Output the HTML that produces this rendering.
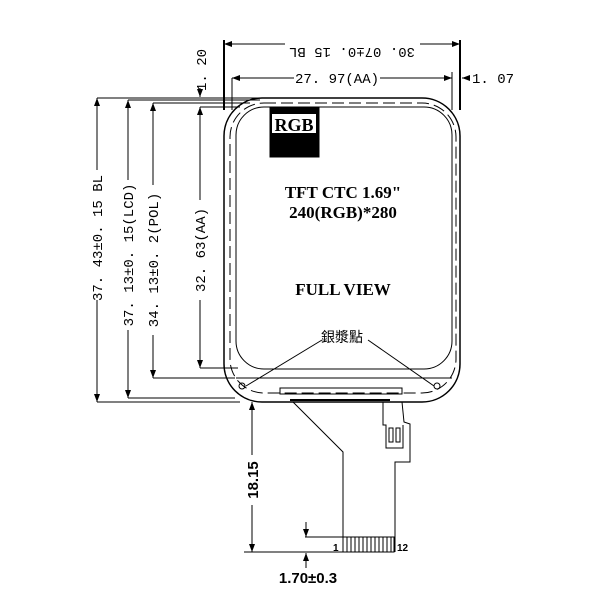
<!DOCTYPE html>
<html><head><style>body{margin:0;background:#fff}svg{display:block}</style></head><body>
<svg width="600" height="600" viewBox="0 0 600 600" xmlns="http://www.w3.org/2000/svg" font-family="Liberation Serif, serif" stroke="#000" fill="none" stroke-width="1">
<defs><marker id="a" markerWidth="8" markerHeight="6" refX="8" refY="3" orient="auto-start-reverse"><path d="M0,0L8,3L0,6z" fill="#000" stroke="none"/></marker></defs>
<!-- top dims -->
<line x1="224" y1="40" x2="224" y2="110" stroke-width="2"/>
<line x1="460" y1="40" x2="460" y2="110" stroke-width="2"/>
<line x1="224" y1="44" x2="285" y2="44" marker-start="url(#a)"/>
<line x1="420" y1="44" x2="460" y2="44" marker-end="url(#a)"/>
<text x="352" y="40" transform="rotate(180 352 44)" font-size="14" fill="#000" stroke="none" text-anchor="middle" font-family="Liberation Mono, monospace">30. 07±0. 15  BL</text>
<line x1="232" y1="78" x2="232" y2="110"/>
<line x1="452" y1="72" x2="452" y2="110"/>
<line x1="232" y1="78" x2="294" y2="78" marker-start="url(#a)"/>
<line x1="380" y1="78" x2="452" y2="78" marker-end="url(#a)"/>
<text x="337" y="83" font-size="14" fill="#000" stroke="none" text-anchor="middle" font-family="Liberation Mono, monospace">27. 97(AA)</text>
<line x1="462" y1="78" x2="470" y2="78" marker-start="url(#a)"/>
<text x="472" y="83" font-size="14" fill="#000" stroke="none" font-family="Liberation Mono, monospace">1. 07</text>
<text x="206" y="70" transform="rotate(-90 206 70)" font-size="14" fill="#000" stroke="none" text-anchor="middle" font-family="Liberation Mono, monospace">1. 20</text>
<line x1="200" y1="88" x2="200" y2="97" marker-end="url(#a)"/>
<!-- left dims extension lines -->
<line x1="97" y1="98" x2="260" y2="98"/>
<line x1="128" y1="100" x2="260" y2="100"/>
<line x1="153" y1="103" x2="250" y2="103"/>
<line x1="200" y1="107" x2="240" y2="107"/>
<line x1="97" y1="402" x2="240" y2="402"/>
<line x1="128" y1="398" x2="235" y2="398"/>
<line x1="153" y1="378" x2="235" y2="378"/>
<line x1="200" y1="368" x2="238" y2="368"/>
<line x1="97" y1="98" x2="97" y2="402" marker-start="url(#a)" marker-end="url(#a)"/>
<line x1="128" y1="100" x2="128" y2="398" marker-start="url(#a)" marker-end="url(#a)"/>
<line x1="153" y1="103" x2="153" y2="378" marker-start="url(#a)" marker-end="url(#a)"/>
<line x1="200" y1="107" x2="200" y2="368" marker-start="url(#a)" marker-end="url(#a)"/>
<g fill="#fff" stroke="none"><rect x="88" y="170" width="18" height="130"/><rect x="119" y="180" width="18" height="150"/><rect x="144" y="185" width="18" height="150"/><rect x="191" y="200" width="18" height="100"/></g>
<g fill="#000" stroke="none" font-size="14" font-family="Liberation Mono, monospace" text-anchor="middle">
<text transform="translate(102 238) rotate(-90)">37. 43±0. 15  BL</text>
<text transform="translate(133 255) rotate(-90)">37. 13±0. 15(LCD)</text>
<text transform="translate(158 260) rotate(-90)">34. 13±0. 2(POL)</text>
<text transform="translate(205 250) rotate(-90)">32. 63(AA)</text>
</g>
<!-- panel -->
<rect x="224" y="98" width="236" height="304" rx="38" stroke-width="1.5"/>
<rect x="230" y="103" width="226" height="290" rx="34" stroke-dasharray="12 5"/>
<rect x="236" y="107" width="216" height="262" rx="28"/>
<line x1="236" y1="378" x2="452" y2="378"/>
<circle cx="242" cy="386" r="3"/><circle cx="437" cy="386" r="3"/>
<!-- RGB -->
<rect x="270" y="108" width="49" height="49" fill="#000"/>
<rect x="272" y="114" width="13" height="19" fill="#fff" stroke="none"/><rect x="285" y="114" width="17" height="19" fill="#fff" stroke="none"/><rect x="302" y="114" width="14" height="19" fill="#fff" stroke="none"/>
<text x="294" y="131" font-size="18" font-weight="bold" fill="#000" stroke="none" text-anchor="middle">RGB</text>
<g fill="#000" stroke="none" font-weight="bold" font-size="17" text-anchor="middle">
<text x="343" y="198">TFT CTC 1.69"</text>
<text x="343" y="218">240(RGB)*280</text>
<text x="343" y="295">FULL VIEW</text>
</g>
<text x="342" y="342" font-size="14" fill="#000" stroke="none" text-anchor="middle" font-family="Liberation Sans, Noto Sans CJK TC, sans-serif">銀漿點</text>
<line x1="322" y1="340" x2="246" y2="386"/>
<line x1="368" y1="340" x2="434" y2="386"/>
<!-- FPC -->
<rect x="280" y="388" width="122" height="6"/>
<line x1="290" y1="400" x2="390" y2="400" stroke-width="2"/>
<path d="M293,402 L343,452 L343,552 M395,552 L395,462 L410,462 L410,424 L404,422 L402,402"/>
<path d="M383,402 L383,425 L386,425 L386,448 L403,448 L403,425"/>
<rect x="389" y="428" width="4" height="14"/><rect x="396" y="428" width="4" height="14"/>
<rect x="343" y="537" width="51" height="15"/>
<g stroke-width="1">
<line x1="347" y1="537" x2="347" y2="552"/><line x1="351" y1="537" x2="351" y2="552"/><line x1="355" y1="537" x2="355" y2="552"/><line x1="359" y1="537" x2="359" y2="552"/><line x1="363" y1="537" x2="363" y2="552"/><line x1="367" y1="537" x2="367" y2="552"/><line x1="371" y1="537" x2="371" y2="552"/><line x1="375" y1="537" x2="375" y2="552"/><line x1="379" y1="537" x2="379" y2="552"/><line x1="383" y1="537" x2="383" y2="552"/><line x1="387" y1="537" x2="387" y2="552"/><line x1="391" y1="537" x2="391" y2="552"/>
</g>
<g fill="#000" stroke="none" font-family="Liberation Sans, sans-serif" font-weight="bold">
<text x="333" y="551" font-size="10">1</text>
<text x="397" y="551" font-size="10">12</text>
<text x="308" y="583" font-size="15" text-anchor="middle">1.70±0.3</text>
<text transform="translate(258 480) rotate(-90)" font-size="15" text-anchor="middle">18.15</text>
</g>
<line x1="244" y1="552" x2="343" y2="552"/>
<line x1="305" y1="537" x2="343" y2="537"/>
<line x1="306" y1="522" x2="306" y2="537" marker-end="url(#a)"/>
<line x1="306" y1="568" x2="306" y2="553" marker-end="url(#a)"/>
<line x1="252" y1="402" x2="252" y2="455" marker-start="url(#a)"/>
<line x1="252" y1="505" x2="252" y2="552" marker-end="url(#a)"/>
</svg>
</body></html>
